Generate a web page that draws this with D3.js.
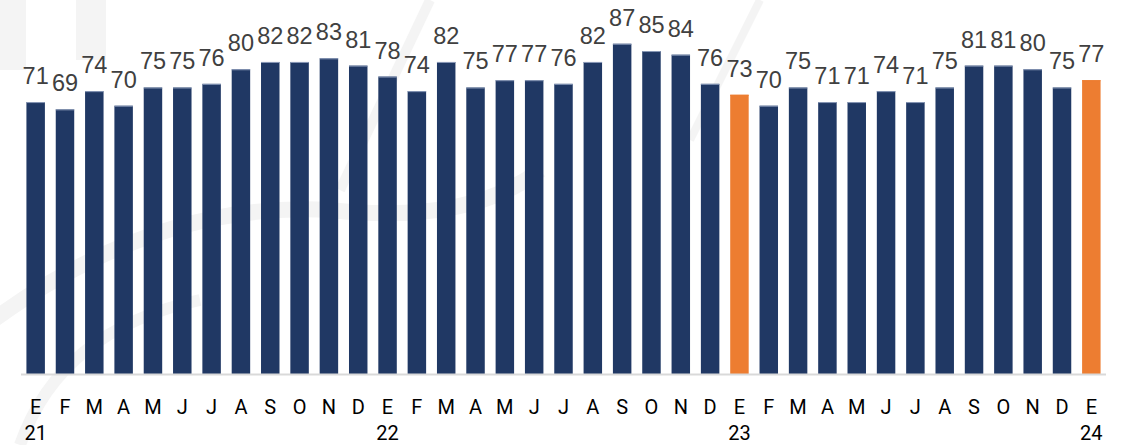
<!DOCTYPE html>
<html>
<head>
<meta charset="utf-8">
<script src="https://cdn.jsdelivr.net/npm/d3@7"></script>
<style>
  body { margin: 0; background: #fff; }
  svg { display: block; }
</style>
</head>
<body>
<div id="chart"></div>
<script>
// monthly values, Jan 2021 .. Jan 2024
var months = ["E","F","M","A","M","J","J","A","S","O","N","D",
              "E","F","M","A","M","J","J","A","S","O","N","D",
              "E","F","M","A","M","J","J","A","S","O","N","D","E"];
var years = ["21","","","","","","","","","","","",
             "22","","","","","","","","","","","",
             "23","","","","","","","","","","","","24"];
var values = [71,69,74,70,75,75,76,80,82,82,83,81,
              78,74,82,75,77,77,76,82,87,85,84,76,
              73,70,75,71,71,74,71,75,81,81,80,75,77];
var highlight = [24, 36];

var width = 1128, height = 445;
var margin = { left: 21, right: 22, top: 0, bottom: 71 };

var svg = d3.select("#chart")
  .append("svg")
  .attr("width", width)
  .attr("height", height);

// faint watermark
var wm = svg.append("g").attr("fill", "none").attr("stroke", "#f4f4f4");
wm.append("path")
  .attr("d", "M -20 330 Q 150 200 330 210 Q 470 225 540 170")
  .attr("stroke-width", 16);
wm.append("path")
  .attr("d", "M 20 445 Q 60 330 200 300")
  .attr("stroke-width", 12);
wm.append("path")
  .attr("d", "M 430 0 L 340 190")
  .attr("stroke-width", 10);
wm.append("path")
  .attr("d", "M 760 0 L 690 140")
  .attr("stroke-width", 8);
wm.append("rect").attr("x", 0).attr("y", 0).attr("width", 26).attr("height", 70)
  .attr("fill", "#f4f4f4").attr("stroke", "none");
wm.append("rect").attr("x", 76).attr("y", 0).attr("width", 30).attr("height", 60)
  .attr("fill", "#f4f4f4").attr("stroke", "none");

var idx = d3.range(values.length);

var x = d3.scaleBand()
  .domain(idx)
  .range([margin.left, width - margin.right])
  .paddingInner(0.37)
  .paddingOuter(0.185);

var y = d3.scaleLinear()
  .domain([-3.6, 99])
  .range([374, 0]);

svg.selectAll("rect.bar")
  .data(values)
  .enter()
  .append("rect")
  .attr("class", "bar")
  .attr("x", (d, i) => x(i))
  .attr("width", x.bandwidth())
  .attr("y", d => y(d))
  .attr("height", d => 374 - y(d))
  .attr("fill", (d, i) => highlight.includes(i) ? "#ed7d31" : "#203864");

// thin lighter cap on each bar
svg.selectAll("line.cap")
  .data(values)
  .enter()
  .append("line")
  .attr("x1", (d, i) => x(i))
  .attr("x2", (d, i) => x(i) + x.bandwidth())
  .attr("y1", d => y(d) + 0.5)
  .attr("y2", d => y(d) + 0.5)
  .attr("stroke", (d, i) => highlight.includes(i) ? "#ed7d31" : "#8a9ab8")
  .attr("stroke-width", 1);

// value labels
svg.selectAll("text.val")
  .data(values)
  .enter()
  .append("text")
  .attr("class", "val")
  .attr("x", (d, i) => x(i) + x.bandwidth() / 2)
  .attr("y", d => y(d) - 18)
  .attr("text-anchor", "middle")
  .attr("font-family", "Liberation Sans, Arial, sans-serif")
  .attr("font-size", 23.5)
  .attr("fill", "#404040")
  .text(d => d);

// x axis line
svg.append("line")
  .attr("x1", margin.left)
  .attr("x2", width - margin.right)
  .attr("y1", 374.5)
  .attr("y2", 374.5)
  .attr("stroke", "#d9d9d9")
  .attr("stroke-width", 2);

// month letters
svg.selectAll("text.month")
  .data(months)
  .enter()
  .append("text")
  .attr("class", "month")
  .attr("x", (d, i) => x(i) + x.bandwidth() / 2)
  .attr("y", 414)
  .attr("text-anchor", "middle")
  .attr("font-family", "Roboto, sans-serif")
  .attr("font-size", 20)
  .attr("fill", "#000")
  .text(d => d);

// year labels
svg.selectAll("text.year")
  .data(years)
  .enter()
  .append("text")
  .attr("class", "year")
  .attr("x", (d, i) => x(i) + x.bandwidth() / 2)
  .attr("y", 440)
  .attr("text-anchor", "middle")
  .attr("font-family", "Roboto, sans-serif")
  .attr("font-size", 20)
  .attr("fill", "#000")
  .text(d => d);
</script>
</body>
</html>
